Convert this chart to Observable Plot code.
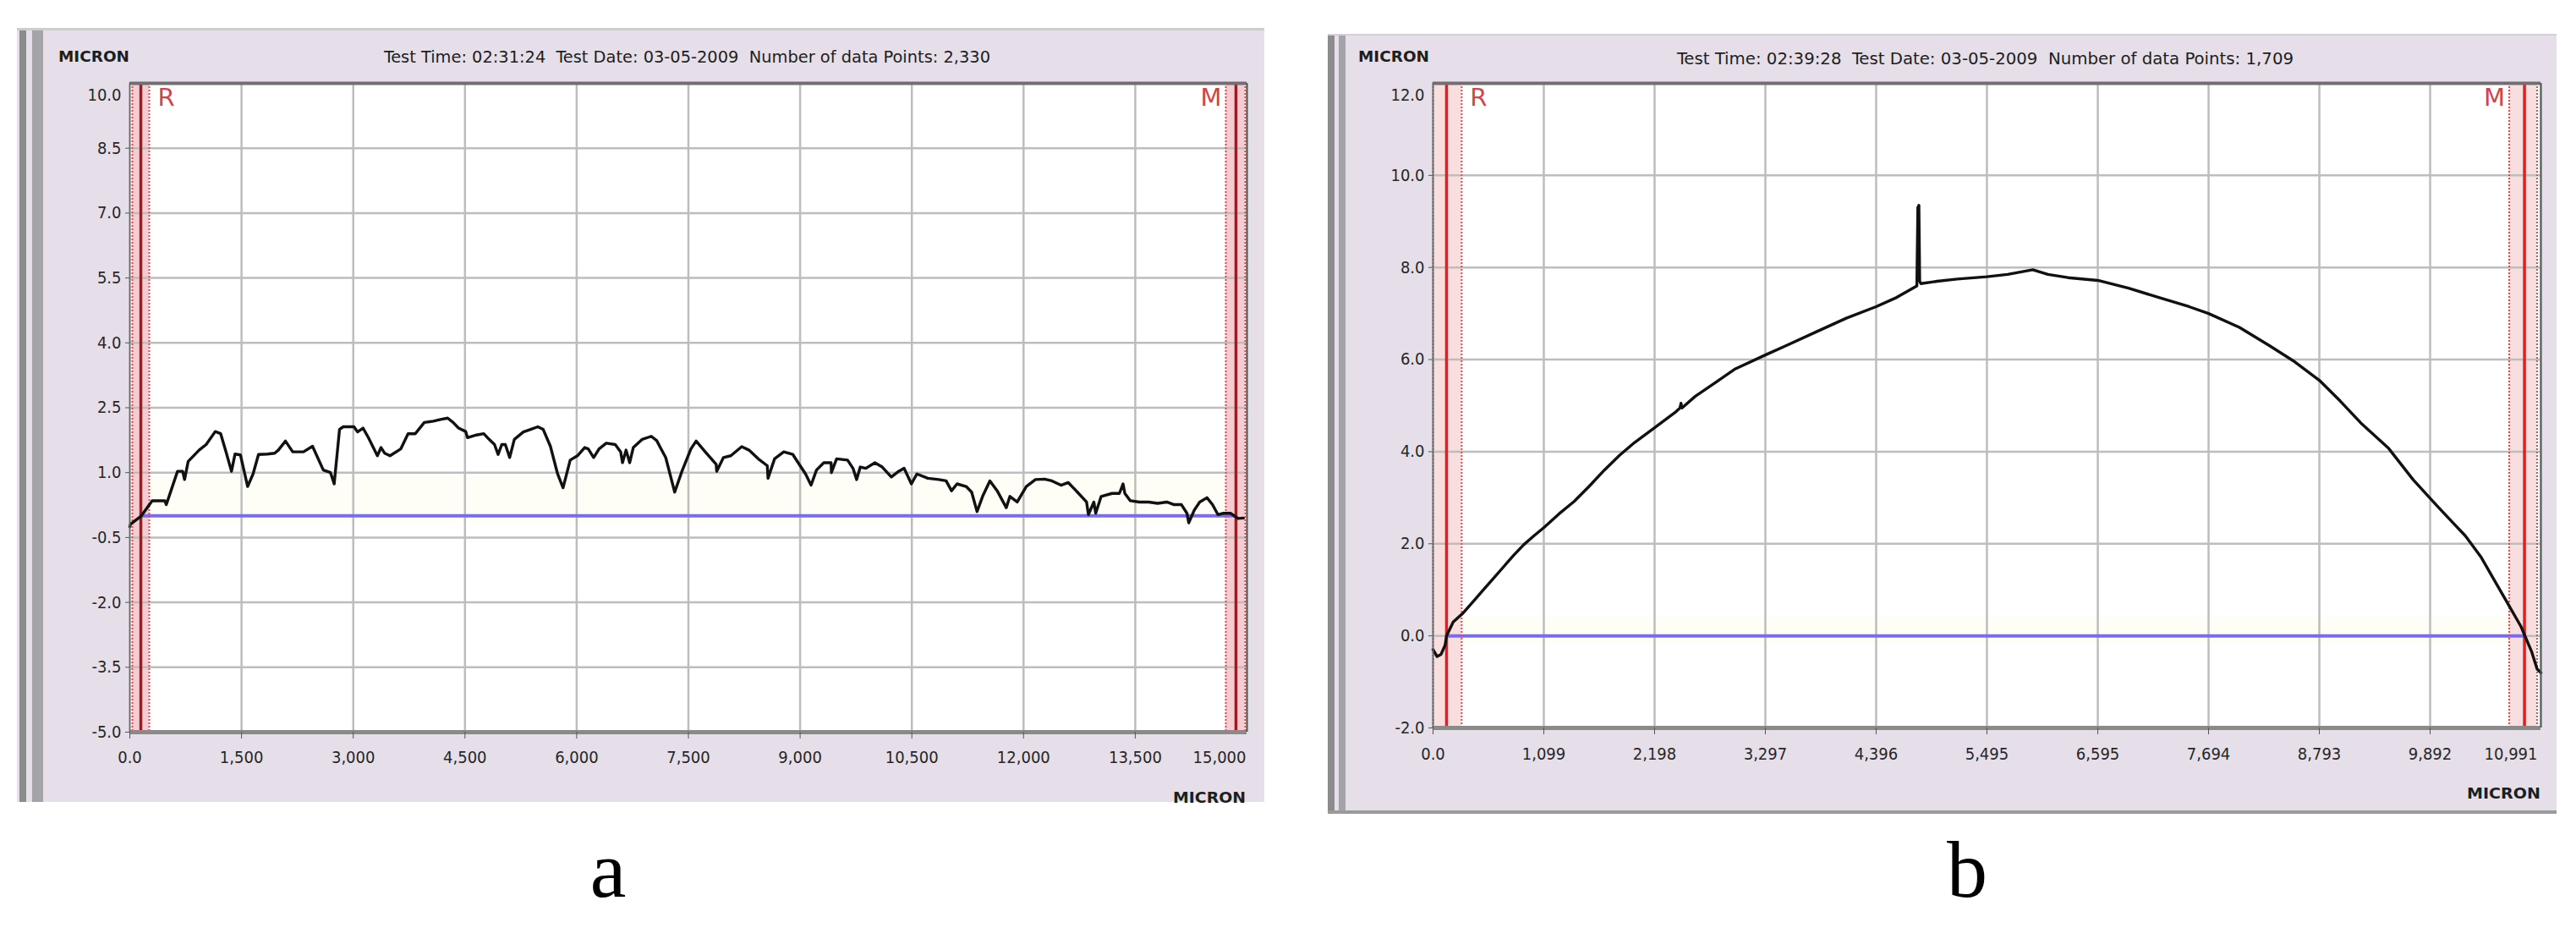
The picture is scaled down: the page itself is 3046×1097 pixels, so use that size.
<!DOCTYPE html>
<html><head><meta charset="utf-8">
<script src="https://cdn.jsdelivr.net/npm/d3@7"></script>
<script src="https://cdn.jsdelivr.net/npm/@observablehq/plot@0.6"></script>
<style>
body{margin:0;background:#fff;}
#root{position:relative;width:3046px;height:1097px;overflow:hidden;background:#fff;}
.panel{position:absolute;background:#e6dfe9;}
.bar{position:absolute;top:0;bottom:0;}
#root svg.plotsvg{position:absolute;}
#overlay{position:absolute;left:0;top:0;pointer-events:none;}
#overlay text{white-space:pre;}
</style></head>
<body><div id="root"></div>
<script>
// ---------- data ----------
const aProfile = [[0,-0.25],[10,-0.19],[155,0.0],[300,0.35],[470,0.35],[490,0.26],[566,0.65],[640,1.03],[710,1.03],[735,0.84],[784,1.26],[930,1.52],[1025,1.65],[1147,1.95],[1220,1.9],[1292,1.48],[1365,1.03],[1413,1.43],[1485,1.41],[1582,0.68],[1655,0.97],[1728,1.42],[1849,1.43],[1945,1.45],[1994,1.52],[2090,1.73],[2187,1.48],[2332,1.48],[2453,1.61],[2598,1.06],[2695,1.0],[2744,0.74],[2816,2.0],[2865,2.06],[3010,2.06],[3058,1.94],[3131,2.03],[3203,1.81],[3324,1.39],[3373,1.58],[3421,1.45],[3494,1.39],[3639,1.55],[3736,1.9],[3833,1.9],[3954,2.16],[4075,2.19],[4171,2.23],[4268,2.26],[4341,2.16],[4414,2.03],[4510,1.95],[4534,1.81],[4655,1.87],[4752,1.9],[4824,1.77],[4897,1.65],[4945,1.42],[4994,1.65],[5042,1.65],[5100,1.35],[5163,1.77],[5284,1.94],[5381,2.0],[5478,2.06],[5550,2.0],[5647,1.61],[5744,0.97],[5817,0.65],[5913,1.29],[6010,1.39],[6107,1.58],[6155,1.55],[6228,1.35],[6301,1.55],[6397,1.68],[6518,1.65],[6591,1.48],[6615,1.23],[6663,1.52],[6712,1.23],[6760,1.58],[6881,1.77],[7002,1.84],[7075,1.74],[7123,1.58],[7195,1.35],[7316,0.55],[7413,1.03],[7534,1.55],[7604,1.73],[7726,1.48],[7873,1.19],[7880,1.03],[7971,1.35],[8069,1.39],[8216,1.6],[8314,1.52],[8437,1.32],[8559,1.16],[8569,0.87],[8657,1.32],[8780,1.48],[8902,1.42],[9000,1.16],[9073,0.97],[9147,0.71],[9220,1.06],[9318,1.23],[9416,1.23],[9420,1.0],[9490,1.32],[9637,1.29],[9710,1.1],[9759,0.84],[9808,1.13],[9882,1.1],[10004,1.23],[10102,1.13],[10225,0.9],[10323,1.03],[10396,1.1],[10494,0.74],[10568,0.97],[10715,0.87],[10862,0.84],[10960,0.81],[11033,0.58],[11107,0.74],[11229,0.68],[11303,0.55],[11376,0.1],[11450,0.45],[11548,0.81],[11646,0.58],[11768,0.19],[11817,0.45],[11915,0.32],[12037,0.68],[12160,0.84],[12282,0.85],[12380,0.81],[12503,0.71],[12601,0.77],[12723,0.55],[12846,0.32],[12871,0.03],[12944,0.32],[12969,0.06],[13042,0.45],[13189,0.52],[13287,0.52],[13336,0.74],[13360,0.52],[13434,0.35],[13556,0.32],[13679,0.32],[13801,0.29],[13924,0.32],[14022,0.26],[14120,0.26],[14194,0.06],[14218,-0.16],[14292,0.13],[14365,0.32],[14463,0.42],[14537,0.26],[14610,0.03],[14684,0.06],[14782,0.06],[14880,-0.06],[14953,-0.05]];
const aXTicks = [0,1500,3000,4500,6000,7500,9000,10500,12000,13500,15000];
const aYTicks = [-5,-3.5,-2,-0.5,1,2.5,4,5.5,7,8.5,10];
const aRef = [34,148,261];
const aMeas = [14716,14852,14977];
const aBand = [-0.15,0.9];
const aHeader = "Test Time: 02:31:24  Test Date: 03-05-2009  Number of data Points: 2,330";

const bProfile = [[0,-0.3],[40,-0.45],[80,-0.4],[120,-0.2],[134,0.0],[200,0.3],[300,0.5],[400,0.75],[500,1.0],[600,1.25],[700,1.5],[800,1.75],[900,1.98],[1000,2.17],[1099,2.35],[1250,2.65],[1400,2.92],[1550,3.25],[1700,3.6],[1850,3.92],[2000,4.2],[2198,4.52],[2400,4.85],[2450,4.95],[2460,5.05],[2470,4.95],[2600,5.2],[2800,5.5],[3000,5.8],[3297,6.1],[3500,6.3],[3800,6.6],[4100,6.9],[4396,7.15],[4600,7.35],[4800,7.6],[4810,9.3],[4820,9.35],[4828,7.7],[4840,7.65],[5000,7.7],[5200,7.75],[5495,7.8],[5700,7.85],[5950,7.95],[6100,7.85],[6300,7.78],[6595,7.72],[6900,7.55],[7200,7.35],[7500,7.15],[7694,7.0],[8000,6.7],[8300,6.3],[8550,5.95],[8793,5.55],[9000,5.1],[9206,4.62],[9481,4.07],[9724,3.39],[9958,2.83],[10100,2.5],[10242,2.17],[10400,1.7],[10518,1.25],[10650,0.75],[10794,0.2],[10900,-0.35],[10953,-0.72],[10991,-0.8]];
const bXTicks = [0,1099,2198,3297,4396,5495,6595,7694,8793,9892,10991];
const bYTicks = [-2,0,2,4,6,8,10,12];
const bRef = [0,134,284];
const bMeas = [10677,10828,10953];
const bBand = [-0.2,0.4];
const bHeader = "Test Time: 02:39:28  Test Date: 03-05-2009  Number of data Points: 1,709";

const axisUnit = "MICRON";
const captions = ["a","b"];

// ---------- drawing ----------
const root = document.getElementById("root");
const FONT = "'DejaVu Sans Condensed','DejaVu Sans',sans-serif";
const fmtX = d => d === 0 ? "0.0" : d3.format(",")(d);
const fmtY = d => d.toFixed(1);

function addPanelBox(left, top, w, h, bars, extraStyle) {
  const p = document.createElement("div");
  p.className = "panel";
  Object.assign(p.style, {left: left+"px", top: top+"px", width: w+"px", height: h+"px"}, extraStyle || {});
  for (const [l, bw, c] of bars) {
    const b = document.createElement("div");
    b.className = "bar";
    Object.assign(b.style, {left: l+"px", width: bw+"px", background: c});
    p.appendChild(b);
  }
  root.appendChild(p);
}

function makePlot(cfg) {
  const pts = cfg.profile.map(([x, y]) => ({x, y}));
  const xMax = cfg.xDomain[1], yMax = cfg.yDomain[1], yMin = cfg.yDomain[0];
  const svg = Plot.plot({
    width: cfg.width, height: cfg.height,
    marginLeft: cfg.m[0], marginRight: cfg.m[1], marginTop: cfg.m[2], marginBottom: cfg.m[3],
    x: {domain: cfg.xDomain, axis: null},
    y: {domain: cfg.yDomain, axis: null},
    style: {background: "transparent", fontFamily: FONT, fontSize: "20px", color: "#262626", overflow: "visible"},
    marks: [
      Plot.frame({fill: "#ffffff", stroke: null}),
      Plot.rect([cfg.band], {x1: () => cfg.ref[2], x2: () => cfg.meas[0], y1: d => d[0], y2: d => d[1], fill: "#fefef7"}),
      Plot.rect([cfg.ref], {x1: d => d[0], x2: d => d[2], fill: cfg.pink}),
      Plot.rect([cfg.meas], {x1: d => d[0], x2: d => d[2], fill: cfg.pink}),
      Plot.gridX(cfg.xTicks, {stroke: "#bdbdbd", strokeOpacity: 1, strokeWidth: 2.5}),
      Plot.gridY(cfg.yTicks, {stroke: "#bdbdbd", strokeOpacity: 1, strokeWidth: 2.5}),
      Plot.ruleY([0], {x1: () => cfg.ref[1], x2: () => cfg.meas[1], stroke: "#7a6cf0", strokeWidth: 4}),
      Plot.ruleX([cfg.ref[0], cfg.ref[2], cfg.meas[0], cfg.meas[2]], {stroke: "#e04a4a", strokeWidth: 2, strokeDasharray: "2,2"}),
      Plot.ruleX([cfg.ref[1], cfg.meas[1]], {stroke: cfg.solid, strokeWidth: 3.5}),
      Plot.line(pts, {x: "x", y: "y", stroke: "#111", strokeWidth: 3.4, strokeLinejoin: "round"}),
      Plot.ruleY([yMax], {stroke: "#6f6f6f", strokeWidth: 4}),
      Plot.ruleY([yMin], {stroke: "#8a8a8a", strokeWidth: 5}),
      Plot.ruleX([xMax], {stroke: "#4d5f57", strokeWidth: 2}),
      Plot.ruleX([cfg.xDomain[0]], {stroke: "#6a6a6a", strokeWidth: 1.5}),
      Plot.axisY({ticks: cfg.yTicks.slice(0, -1), tickFormat: fmtY, tickSize: 5, tickPadding: 5, label: null, stroke: "#555"}),
      Plot.text([yMax], {y: d => d, frameAnchor: "left", textAnchor: "end", dx: -10, dy: 14, text: fmtY, fill: "#262626"}),
      Plot.axisX({ticks: cfg.xTicks.slice(0, -1), tickFormat: fmtX, tickSize: 8, tickPadding: cfg.xPad, label: null, stroke: "#555"}),
      Plot.text([xMax], {x: d => d, frameAnchor: "bottom", lineAnchor: "top", textAnchor: "end", dx: cfg.lastDx, dy: 8 + cfg.xPad, text: fmtX, fill: "#262626"}),
      Plot.text(["R"], {x: () => cfg.ref[2], frameAnchor: "top", lineAnchor: "top", textAnchor: "start", dx: 10, dy: 6, text: d => d, fill: "#d04646", fontSize: 29, fontFamily: "'DejaVu Sans',sans-serif"}),
      Plot.text(["M"], {x: () => cfg.meas[0], frameAnchor: "top", lineAnchor: "top", textAnchor: "end", dx: -5, dy: 6, text: d => d, fill: "#d04646", fontSize: 29, fontFamily: "'DejaVu Sans',sans-serif"})
    ]
  });
  svg.classList.add("plotsvg");
  svg.style.left = cfg.left + "px";
  svg.style.top = cfg.top + "px";
  root.appendChild(svg);
}

// panel frames
addPanelBox(20, 33, 1475, 915, [[3, 8, "#8c8c8c"], [18, 13, "#a3a3a8"]], {borderTop: "3px solid #cdcdcd", boxSizing: "border-box"});
addPanelBox(1570, 40, 1453, 922, [[0, 8, "#8c8c8c"], [13, 8, "#a3a3a8"]], {borderBottom: "4px solid #9a9a9a", borderTop: "2px solid #d6d0da", boxSizing: "border-box"});

makePlot({profile: aProfile, xDomain: [0, 15000], yDomain: [-5, 10], xTicks: aXTicks, yTicks: aYTicks,
  ref: aRef, meas: aMeas, band: aBand, pink: "#f6ccd4", solid: "#9b1d1d",
  left: 51, top: 37, width: 1444, height: 911, m: [102, 21, 61, 83], xPad: 14, lastDx: -1});
makePlot({profile: bProfile, xDomain: [0, 10991], yDomain: [-2, 12], xTicks: bXTicks, yTicks: bYTicks,
  ref: bRef, meas: bMeas, band: bBand, pink: "#f8dedf", solid: "#e02020",
  left: 1591, top: 40, width: 1432, height: 922, m: [103, 19, 58, 102], xPad: 15, lastDx: -4});

// overlay texts
const ov = d3.select(root).append("svg").attr("id", "overlay").attr("width", 3046).attr("height", 1097);
const txt = (x, y, s, o) => {
  const t = ov.append("text").attr("x", x).attr("y", y).attr("xml:space", "preserve").text(s)
    .attr("font-family", o.family || FONT).attr("font-size", o.size).attr("fill", o.fill || "#1e1e1e")
    .attr("dominant-baseline", o.base || "central").attr("text-anchor", o.anchor || "start");
  if (o.bold) t.attr("font-weight", "bold");
  if (o.len) t.attr("textLength", o.len).attr("lengthAdjust", "spacingAndGlyphs");
  return t;
};
txt(69, 67, axisUnit, {size: 17, bold: true, len: 84});
txt(454, 67, aHeader, {size: 19, len: 717});
txt(1606, 67, axisUnit, {size: 17, bold: true, len: 84});
txt(1983, 69, bHeader, {size: 19, len: 729});
txt(1387, 943, axisUnit, {size: 17, bold: true, len: 86});
txt(2917, 938, axisUnit, {size: 17, bold: true, len: 87});
txt(719, 1060, captions[0], {size: 96, family: "'Liberation Serif','DejaVu Serif',serif", anchor: "middle", base: "alphabetic", fill: "#000"});
txt(2326, 1060, captions[1], {size: 96, family: "'Liberation Serif','DejaVu Serif',serif", anchor: "middle", base: "alphabetic", fill: "#000"});
</script></body></html>
